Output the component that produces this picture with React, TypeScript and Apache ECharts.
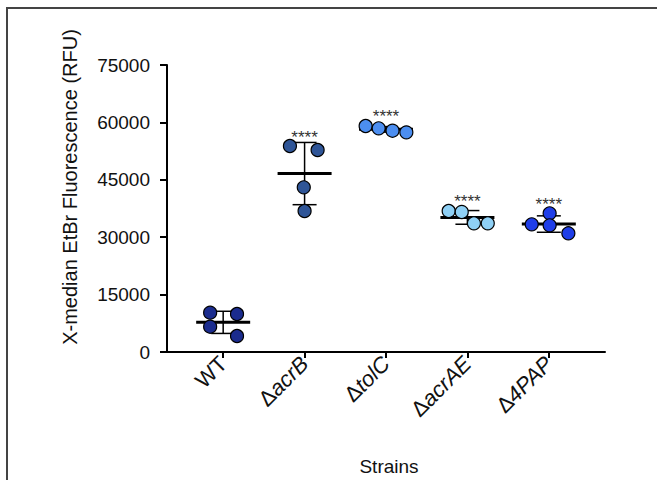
import React, { useEffect, useRef } from "react";
import * as echarts from "echarts";

const categories = ["WT", "ΔacrB", "ΔtolC", "ΔacrAE", "Δ4PAP"];
const wtValues = [10270, 9930, 6610, 4180];
const acrBValues = [53830, 52790, 43040, 36850];
const tolCValues = [59060, 58450, 57830, 57400];
const acrAEValues = [36850, 36590, 33630, 33630];
const pap4Values = [36240, 33370, 33110, 31020];
const jitter = [
  [-0.16, 0.17, -0.16, 0.17],
  [-0.18, 0.16, -0.01, 0.0],
  [-0.25, -0.09, 0.08, 0.25],
  [-0.23, -0.07, 0.08, 0.25],
  [0.01, -0.21, 0.01, 0.24],
];
const significance = ["", "****", "****", "****", "****"];
const yTicks = [0, 15000, 30000, 45000, 60000, 75000];
const colors = ["#1b2c8e", "#2f5597", "#4c8ef0", "#8fd0f5", "#1f3ee8"];

const groups = [wtValues, acrBValues, tolCValues, acrAEValues, pap4Values];
const FONT = "'Liberation Sans', Arial, Helvetica, sans-serif";

function mean(a: number[]) {
  return a.reduce((s, v) => s + v, 0) / a.length;
}
function sd(a: number[]) {
  const m = mean(a);
  return Math.sqrt(a.reduce((s, v) => s + (v - m) * (v - m), 0) / (a.length - 1));
}

export default function App() {
  const ref = useRef<HTMLDivElement>(null);
  useEffect(() => {
    if (!ref.current) return;
    const chart = echarts.init(ref.current, undefined, { renderer: "svg" });
    const summary = groups.map((g, i) => [i, mean(g), sd(g), Math.max(...g)]);
    const scatterSeries = groups.map((g, gi) => ({
      type: "scatter",
      name: categories[gi],
      z: 4,
      symbol: "circle",
      symbolSize: 13,
      itemStyle: { color: colors[gi], borderColor: "#000", borderWidth: 1.2, opacity: 1 },
      data: g.map((v, k) => [gi + jitter[gi][k], v]),
    }));
    const labelBase = { fontSize: 22, fontFamily: FONT, color: "#111", fontStyle: "normal" };
    const option: any = {
      animation: false,
      backgroundColor: "#fff",
      grid: { left: 167, right: 52, top: 65, bottom: 128, containLabel: false },
      xAxis: {
        type: "value",
        min: -0.69,
        max: 4.69,
        splitLine: { show: false },
        axisLine: { show: true, onZero: false, lineStyle: { color: "#000", width: 2 } },
        axisTick: {
          show: true,
          customValues: [0, 1, 2, 3, 4],
          length: 6,
          lineStyle: { color: "#000", width: 2 },
        },
        axisLabel: {
          show: true,
          customValues: [0, 1, 2, 3, 4],
          rotate: 45,
          margin: 8,
          ...labelBase,
          formatter: (v: number) => {
            const name = categories[Math.round(v)];
            if (!name) return "";
            if (name.startsWith("Δ")) return `{d|Δ}{i|${name.slice(1)}}`;
            return `{n|${name}}`;
          },
          rich: {
            d: { ...labelBase },
            i: { ...labelBase, fontStyle: "italic" },
            n: { ...labelBase },
          },
        },
      },
      yAxis: {
        type: "value",
        min: 0,
        max: 75000,
        interval: 15000,
        splitLine: { show: false },
        axisLine: { show: true, onZero: false, lineStyle: { color: "#000", width: 2 } },
        axisTick: { show: true, length: 7, lineStyle: { color: "#000", width: 2 } },
        axisLabel: {
          margin: 17,
          fontSize: 19,
          fontFamily: FONT,
          color: "#111",
          formatter: (v: number) => (yTicks.includes(v) ? String(v) : ""),
        },
      },
      graphic: [
        {
          type: "rect",
          shape: { x: 7, y: 8, width: 720, height: 520 },
          style: { fill: "none", stroke: "#444", lineWidth: 2 },
          silent: true,
        },
        {
          type: "text",
          x: 70,
          y: 187,
          rotation: Math.PI / 2,
          style: {
            text: "X-median EtBr Fluorescence (RFU)",
            fontSize: 20,
            fontFamily: FONT,
            fill: "#111",
            align: "center",
            verticalAlign: "middle",
          },
        },
        {
          type: "text",
          x: 389,
          y: 466,
          style: {
            text: "Strains",
            fontSize: 19,
            fontFamily: FONT,
            fill: "#111",
            align: "center",
            verticalAlign: "middle",
          },
        },
      ],
      series: [
        {
          type: "custom",
          z: 3,
          clip: false,
          data: summary,
          renderItem: (params: any, api: any) => {
            const i = api.value(0);
            const m = api.value(1);
            const s = api.value(2);
            const top = api.value(3);
            const c = api.coord([i, m]);
            const up = api.coord([i, m + s]);
            const lo = api.coord([i, m - s]);
            const tp = api.coord([i, top]);
            const ls = { stroke: "#000", lineWidth: 1.5 };
            return {
              type: "group",
              children: [
                { type: "line", shape: { x1: c[0], y1: up[1], x2: c[0], y2: lo[1] }, style: ls },
                { type: "line", shape: { x1: c[0] - 12, y1: up[1], x2: c[0] + 12, y2: up[1] }, style: ls },
                { type: "line", shape: { x1: c[0] - 12, y1: lo[1], x2: c[0] + 12, y2: lo[1] }, style: ls },
                {
                  type: "line",
                  shape: { x1: c[0] - 27, y1: c[1], x2: c[0] + 27, y2: c[1] },
                  style: { stroke: "#000", lineWidth: 3 },
                },
                {
                  type: "text",
                  x: c[0],
                  y: tp[1] - 9,
                  style: {
                    text: significance[params.dataIndex],
                    fontSize: 17,
                    fontFamily: FONT,
                    fill: "#333",
                    align: "center",
                    verticalAlign: "middle",
                  },
                },
              ],
            };
          },
        },
        ...scatterSeries,
      ],
    };
    chart.setOption(option);
    return () => chart.dispose();
  }, []);
  return (
    <div
      ref={ref}
      style={{ position: "fixed", left: 0, top: 0, width: 657, height: 480 }}
    />
  );
}
